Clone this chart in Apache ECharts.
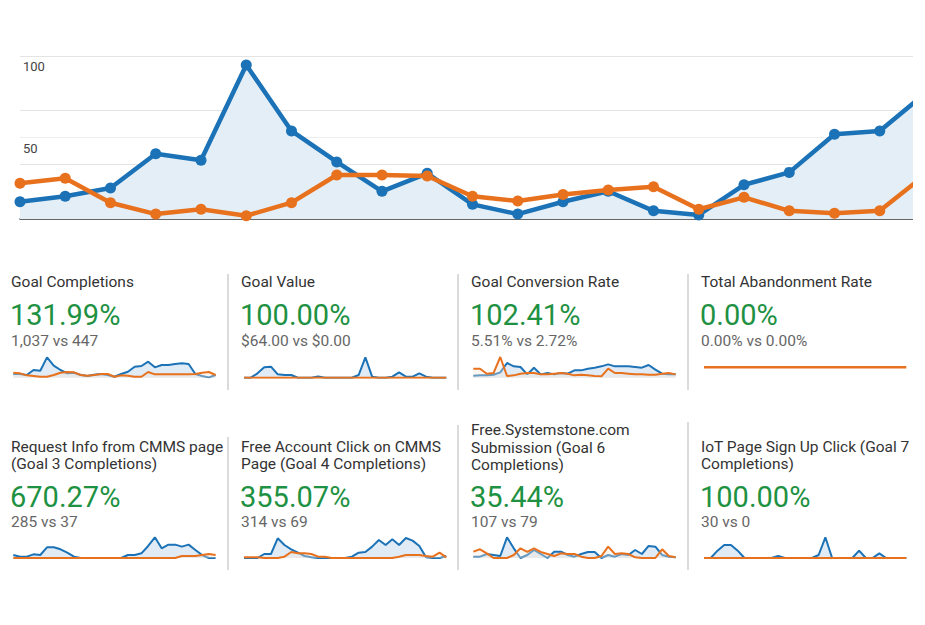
<!DOCTYPE html>
<html>
<head>
<meta charset="utf-8">
<script src="https://cdn.jsdelivr.net/npm/echarts@6/dist/echarts.min.js"></script>
<style>
  html,body{margin:0;padding:0;background:#fff;}
  #chart{width:925px;height:625px;}
</style>
</head>
<body>
<div id="chart"></div>
<script>
// ---------- data ----------
const mainCategories = ['1','2','3','4','5','6','7','8','9','10','11','12','13','14','15','16','17','18','19','20','21'];
const mainCurrent  = [10.6, 14, 19, 40, 36, 94.5, 54, 35, 17, 28, 9, 3, 10.6, 17, 5, 2.5, 21, 28.6, 52, 54, 77];
const mainPrevious = [22, 25, 10, 3, 6, 2, 10, 27, 27, 26.4, 14, 11, 15, 17.8, 19.8, 6, 13.3, 5, 3.5, 5, 27];
const mainTickLabels = ['50', '100'];

const cardTitles = [
  'Goal Completions',
  'Goal Value',
  'Goal Conversion Rate',
  'Total Abandonment Rate',
  'Request Info from CMMS page\n(Goal 3 Completions)',
  'Free Account Click on CMMS\nPage (Goal 4 Completions)',
  'Free.Systemstone.com\nSubmission (Goal 6\nCompletions)',
  'IoT Page Sign Up Click (Goal 7\nCompletions)'
];
const cardChanges = ['131.99%', '100.00%', '102.41%', '0.00%', '670.27%', '355.07%', '35.44%', '100.00%'];
const cardCompare = ['1,037 vs 447', '$64.00 vs $0.00', '5.51% vs 2.72%', '0.00% vs 0.00%', '285 vs 37', '314 vs 69', '107 vs 79', '30 vs 0'];

const sparkCurrent = [
  [11,11,8,23,21,61,36,23,13,15,8,5,9,11,8,3,11,18,33,35,48,31,38,38,41,43,41,11,5,1,8],
  [0,0,13,31,33,10,8,8,0,0,0,4,0,0,0,0,0,8,61,3,0,0,3,16,3,3,13,3,0,0,0],
  [6,7,7,9,16,44,34,32,10,30,10,14,10,14,12,22,22,27,30,34,40,34,34,34,32,30,38,24,12,10,10],
  [0,0,0,0,0,0,0,0,0,0,0,0,0,0,0,0,0,0,0,0,0,0,0,0,0,0,0,0,0,0,0],
  [9,4,4,11,9,32,32,26,16,4,0,0,0,0,0,0,0,9,9,14,36,62,29,40,40,34,40,24,9,0,0],
  [0,0,0,12,12,59,39,26,16,6,2,0,0,0,0,0,4,16,18,34,54,39,56,39,60,52,36,2,0,0,6],
  [4,4,12,9,6,62,29,0,9,24,12,0,19,19,9,4,12,18,18,0,9,4,12,9,24,12,36,34,9,4,2],
  [0,0,22,39,39,22,0,0,0,0,0,6,0,0,0,0,0,9,62,0,0,0,0,22,0,0,14,0,0,0,0]
];
const sparkPrevious = [
  [15,13,7,5,3,3,8,15,17,16,8,6,8,11,11,3,7,6,3,3,17,10,10,10,10,10,10,11,15,17,8],
  [0,0,0,0,0,0,0,0,0,0,0,0,0,0,0,0,0,0,0,0,0,0,0,0,0,0,0,0,0,0,0],
  [27,27,12,14,62,5,7,12,14,14,10,10,12,14,12,7,9,7,5,4,27,14,14,12,10,10,9,9,12,14,10],
  [0,0,0,0,0,0,0,0,0,0,0,0,0,0,0,0,0,0,0,0,0,0,0,0,0,0,0,0,0,0,0],
  [0,0,0,0,0,0,0,0,0,0,0,0,0,0,0,0,0,0,0,0,0,0,0,0,0,6,6,6,9,12,9],
  [2,2,2,0,0,0,4,18,14,14,12,4,4,0,0,0,0,0,0,0,0,0,0,4,9,9,9,6,4,16,2],
  [19,26,14,0,0,0,9,29,18,29,18,12,6,14,12,12,4,0,0,6,34,12,14,12,2,0,0,0,26,6,2],
  [0,0,0,0,0,0,0,0,0,0,0,0,0,0,0,0,0,0,0,0,0,0,0,0,0,0,0,0,0,0,0]
];
const sparkCategories = Array.from({length: 31}, (_, i) => String(i + 1));

// ---------- styles / layout ----------
const BLUE = '#1b72b6';
const ORANGE = '#e8711e';
const GREEN = '#1e9142';
const FONT = 'Roboto';

const colX = [11, 241, 471, 701];
const sparkLeft = [13.3, 244, 473.3, 704];
const sparkWidth = 202.3;
const sparkTop = [357, 537.3];
const sparkHeight = 20.7;

const grids = [{left: 20, top: 56, width: 907, height: 163}];
const xAxes = [{
  type: 'category', gridIndex: 0, data: mainCategories, boundaryGap: false,
  axisLine: {show: true, lineStyle: {color: '#333', width: 1.5}},
  axisTick: {show: false}, axisLabel: {show: false}, splitLine: {show: false}
}];
const yAxes = [
  {
    type: 'value', gridIndex: 0, min: 0, max: 100, interval: 50,
    axisLine: {show: false}, axisTick: {show: false},
    axisLabel: {
      inside: true, margin: 3, color: '#444', fontFamily: FONT, fontSize: 13,
      verticalAlign: 'top', padding: [4, 0, 0, 0],
      formatter: v => { const i = mainTickLabels.indexOf(String(v)); return i >= 0 ? mainTickLabels[i] : ''; }
    },
    splitLine: {show: true, lineStyle: {color: ['transparent', '#eeeeee', '#e4e4e4'], width: 1}}
  },
  {
    type: 'value', gridIndex: 0, min: 0, max: 99.999, interval: 33.333, position: 'left',
    axisLine: {show: false}, axisTick: {show: false}, axisLabel: {show: false},
    splitLine: {show: true, lineStyle: {color: ['transparent', '#e4e4e4', '#e4e4e4', '#e4e4e4'], width: 1}}
  }
];
const series = [
  {
    type: 'line', xAxisIndex: 0, yAxisIndex: 0, data: mainCurrent,
    symbol: 'circle', symbolSize: 11, showSymbol: true,
    lineStyle: {color: BLUE, width: 4.5}, itemStyle: {color: BLUE},
    areaStyle: {color: '#e3eef7', opacity: 1}, z: 3, animation: false
  },
  {
    type: 'line', xAxisIndex: 0, yAxisIndex: 0, data: mainPrevious,
    symbol: 'circle', symbolSize: 11, showSymbol: true,
    lineStyle: {color: ORANGE, width: 4.5}, itemStyle: {color: ORANGE}, z: 4, animation: false
  }
];

for (let k = 0; k < 8; k++) {
  const col = k % 4, row = Math.floor(k / 4);
  const gi = k + 1;
  grids.push({left: sparkLeft[col], top: sparkTop[row], width: sparkWidth, height: sparkHeight});
  xAxes.push({
    type: 'category', gridIndex: gi, data: sparkCategories, boundaryGap: false, show: false
  });
  const flat = k === 3;
  yAxes.push({
    type: 'value', gridIndex: gi, min: flat ? -1 : 0, max: flat ? 1 : 62, show: false,
    splitLine: {show: false}
  });
  series.push({
    type: 'line', xAxisIndex: gi + 0, yAxisIndex: gi + 1, data: sparkCurrent[k],
    symbol: 'none', lineStyle: {color: BLUE, width: 2, opacity: flat ? 0 : 1},
    areaStyle: flat ? undefined : {color: '#dde9f4', opacity: 0.9}, animation: false, z: 3
  });
  series.push({
    type: 'line', xAxisIndex: gi + 0, yAxisIndex: gi + 1, data: sparkPrevious[k],
    symbol: 'none', lineStyle: {color: ORANGE, width: flat ? 2.5 : 2},
    areaStyle: flat ? undefined : {color: '#f7e6d8', opacity: 0.35}, animation: false, z: 4
  });
}

// ---------- text & dividers ----------
const graphics = [];
// clip right end of main chart
graphics.push({type: 'rect', shape: {x: 913, y: 40, width: 12, height: 190}, style: {fill: '#fff'}, z: 100});

const titleTopFirstLineCenter = [[282, 282, 282, 282], [446.7, 446.7, 430, 446.7]];
const changeY = [315, 496.7];
const compareY = [341, 521.7];
for (let k = 0; k < 8; k++) {
  const col = k % 4, row = Math.floor(k / 4);
  graphics.push({
    type: 'text', z: 50,
    style: {
      text: cardTitles[k], x: colX[col], y: titleTopFirstLineCenter[row][col] - 8.8,
      fill: '#333', font: '15.5px ' + FONT, lineHeight: 17.6, verticalAlign: 'top', align: 'left'
    }
  });
  graphics.push({
    type: 'text', z: 50,
    style: {
      text: cardChanges[k], x: colX[col] - 1, y: changeY[row],
      fill: GREEN, font: '29px ' + FONT, verticalAlign: 'middle', align: 'left'
    }
  });
  graphics.push({
    type: 'text', z: 50,
    style: {
      text: cardCompare[k], x: colX[col], y: compareY[row],
      fill: '#666', font: '15.5px ' + FONT, verticalAlign: 'middle', align: 'left'
    }
  });
}
const dividers = [
  [228, 274, 390], [458, 274, 390], [688, 274, 390],
  [228, 437, 570], [458, 425, 570], [688, 422, 570]
];
dividers.forEach(d => graphics.push({
  type: 'line', z: 40, shape: {x1: d[0], y1: d[1], x2: d[0], y2: d[2]},
  style: {stroke: '#cfcfcf', lineWidth: 1.5}
}));

const chart = echarts.init(document.getElementById('chart'), null, {renderer: 'svg'});
chart.setOption({
  backgroundColor: '#fff',
  animation: false,
  grid: grids,
  xAxis: xAxes,
  yAxis: yAxes,
  series: series,
  graphic: graphics
});
</script>
</body>
</html>
